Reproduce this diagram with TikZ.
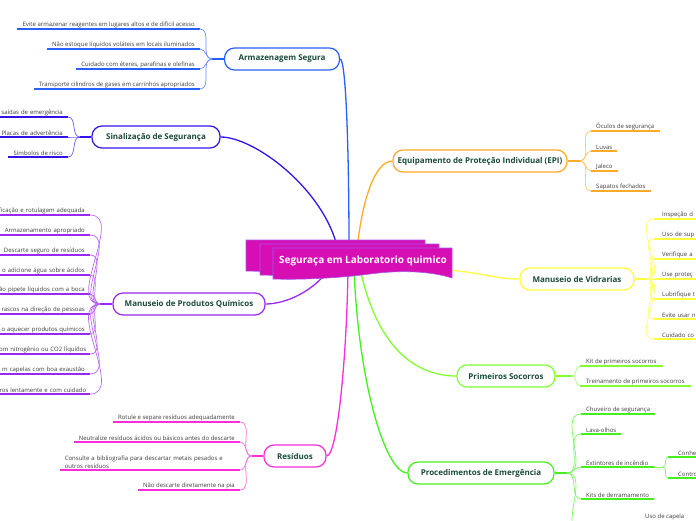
\documentclass[tikz,border=0pt]{standalone}
\usepackage{fontspec}
\setmainfont{Open Sans}
\definecolor{armc}{RGB}{40,95,255}
\definecolor{sinc}{RGB}{50,20,235}
\definecolor{prodc}{RGB}{155,40,240}
\definecolor{resc}{RGB}{255,45,215}
\definecolor{epic}{RGB}{255,170,40}
\definecolor{vidc}{RGB}{255,255,60}
\definecolor{socc}{RGB}{130,255,50}
\definecolor{emgc}{RGB}{70,240,30}
\definecolor{hubc}{RGB}{214,14,180}
\definecolor{hubedge}{RGB}{165,85,235}
\definecolor{titlec}{RGB}{25,75,60}
\definecolor{leafc}{RGB}{60,60,60}

\begin{document}
\begin{tikzpicture}[x=1pt,y=1pt,
		branch/.style={draw=#1, line width=1.2pt, rounded corners=10pt, fill=white, text=titlec, font=\bfseries\fontsize{8}{9.6}\selectfont, minimum height=22pt, inner xsep=3pt},
		leafl/.style={anchor=south east, inner xsep=5pt, inner ysep=0.8pt, text=leafc, font=\fontsize{6}{8.3}\selectfont},
		leafr/.style={leafl, anchor=south west},
		under/.style={draw=#1, line width=2pt},
		twig/.style={draw=#1!70, line width=0.7pt},
		trunk/.style={draw=#1, line width=1.3pt},
		banner/.style={fill=hubc, draw=hubedge, line width=0.6pt}]
		\useasboundingbox (0,0) rectangle (696,-520);
		\clip (0,0) rectangle (696,-520);
		\node[branch=armc, minimum width=115pt] (arm) at (282,-59) {Armazenagem Segura};
		\node[branch=sinc, minimum width=128pt] (sin) at (156,-137) {Sinalização de Segurança};
		\node[branch=prodc, minimum width=152pt] (prod) at (189,-304) {Manuseio de Produtos Químicos};
		\node[branch=resc, minimum width=62pt] (res) at (295,-456) {Resíduos};
		\node[branch=epic, minimum width=174pt] (epi) at (480,-161) {Equipamento de Proteção Individual (EPI)};
		\node[branch=vidc, minimum width=114pt] (vid) at (577,-279) {Manuseio de Vidrarias};
		\node[branch=socc, minimum width=98pt] (soc) at (506,-376) {Primeiros Socorros};
		\node[branch=emgc, minimum width=146pt] (emg) at (481,-473) {Procedimentos de Emergência};
		\coordinate (harm) at (349,-250);
		\coordinate (hsin) at (338,-250);
		\coordinate (hepi) at (357,-250);
		\coordinate (hprod) at (330,-268);
		\coordinate (hres) at (348,-268);
		\coordinate (hsoc) at (360,-268);
		\coordinate (hemg) at (354,-268);
		\coordinate (hvid) at (445,-270);
		\draw[trunk=armc] (harm) .. controls (349,-150) and (346,-59) .. (arm.east);
		\draw[trunk=sinc] (hsin) .. controls (325,-190) and (255,-137) .. (sin.east);
		\draw[trunk=epic] (hepi) .. controls (362,-200) and (375,-161) .. (epi.west);
		\draw[trunk=prodc] (hprod) .. controls (315,-290) and (287,-304) .. (prod.east);
		\draw[trunk=resc] (hres) .. controls (347,-350) and (338,-456) .. (res.east);
		\draw[trunk=vidc] (hvid) .. controls (480,-272) and (495,-279) .. (vid.west);
		\draw[trunk=socc] (hsoc) .. controls (375,-340) and (410,-376) .. (soc.west);
		\draw[trunk=emgc] (hemg) .. controls (358,-380) and (385,-473) .. (emg.west);
		\draw[banner, shift={(-27,8)}] (273,-248) -- (452,-248) -- (452,-278) .. controls (430,-271) and (400,-270) .. (370,-274) .. controls (340,-278) and (300,-280) .. (273,-279) -- cycle;
		\draw[banner, shift={(-13,4)}] (273,-248) -- (452,-248) -- (452,-278) .. controls (430,-271) and (400,-270) .. (370,-274) .. controls (340,-278) and (300,-280) .. (273,-279) -- cycle;
		\draw[banner] (273,-248) -- (452,-248) -- (452,-278) .. controls (430,-271) and (400,-270) .. (370,-274) .. controls (340,-278) and (300,-280) .. (273,-279) -- cycle;
		\node[text=white, font=\bfseries\fontsize{10}{12}\selectfont] (hub) at (363,-261) {Seguraça em Laboratorio quimico};
		\coordinate (armf) at (212,-59);
		\node[leafl] (arm1) at (200,-29) {Evite armazenar reagentes em lugares altos e de difícil acesso};
		\node[leafl] (arm2) at (200,-49) {Não estoque líquidos voláteis em locais iluminados};
		\node[leafl] (arm3) at (200,-69) {Cuidado com éteres, parafinas e olefinas};
		\node[leafl] (arm4) at (200,-89) {Transporte cilindros de gases em carrinhos apropriados};
		\draw[under=armc] (arm.west) -- (armf);
		\draw[under=armc] (arm1.south west) -- (arm1.south east);
		\draw[under=armc] (arm2.south west) -- (arm2.south east);
		\draw[under=armc] (arm3.south west) -- (arm3.south east);
		\draw[under=armc] (arm4.south west) -- (arm4.south east);
		\draw[twig=armc] (armf) to[out=180,in=0] (arm1.south east);
		\draw[twig=armc] (armf) to[out=180,in=0] (arm2.south east);
		\draw[twig=armc] (armf) to[out=180,in=0] (arm3.south east);
		\draw[twig=armc] (armf) to[out=180,in=0] (arm4.south east);
		\coordinate (sinf) at (80,-137);
		\node[leafl, text width=80pt, align=right] (sin1) at (68,-117) {saídas de emergência};
		\node[leafl, text width=80pt, align=right] (sin2) at (68,-137) {Placas de advertência};
		\node[leafl] (sin3) at (68,-157) {Símbolos de risco};
		\draw[under=sinc] (sin.west) -- (sinf);
		\draw[under=sinc] (sin1.south west) -- (sin1.south east);
		\draw[under=sinc] (sin2.south west) -- (sin2.south east);
		\draw[under=sinc] (sin3.south west) -- (sin3.south east);
		\draw[twig=sinc] (sinf) to[out=180,in=0] (sin1.south east);
		\draw[twig=sinc] (sinf) to[out=180,in=0] (sin2.south east);
		\draw[twig=sinc] (sinf) to[out=180,in=0] (sin3.south east);
		\coordinate (prodf) at (100,-304);
		\node[leafl, text width=100pt, align=right] (prod1) at (90,-215) {ficação e rotulagem adequada};
		\node[leafl, text width=100pt, align=right] (prod2) at (90,-235) {Armazenamento apropriado};
		\node[leafl, text width=100pt, align=right] (prod3) at (90,-255) {Descarte seguro de resíduos};
		\node[leafl, text width=100pt, align=right] (prod4) at (90,-275) {o adicione água sobre ácidos};
		\node[leafl, text width=100pt, align=right] (prod5) at (90,-294) {ão pipete líquidos com a boca};
		\node[leafl, text width=100pt, align=right] (prod6) at (90,-314) {rascos na direção de pessoas};
		\node[leafl, text width=100pt, align=right] (prod7) at (90,-334) {o aquecer produtos químicos};
		\node[leafl, text width=100pt, align=right, inner xsep=3.5pt] (prod8) at (90,-354) {om nitrogênio ou CO2 líquidos};
		\node[leafl, text width=100pt, align=right] (prod9) at (90,-374) {m capelas com boa exaustão};
		\node[leafl, text width=100pt, align=right, inner xsep=3.5pt] (prod10) at (90,-394) {ros lentamente e com cuidado};
		\draw[under=prodc] (prod.west) -- (prodf);
		\draw[under=prodc] (prod1.south west) -- (prod1.south east);
		\draw[under=prodc] (prod2.south west) -- (prod2.south east);
		\draw[under=prodc] (prod3.south west) -- (prod3.south east);
		\draw[under=prodc] (prod4.south west) -- (prod4.south east);
		\draw[under=prodc] (prod5.south west) -- (prod5.south east);
		\draw[under=prodc] (prod6.south west) -- (prod6.south east);
		\draw[under=prodc] (prod7.south west) -- (prod7.south east);
		\draw[under=prodc] (prod8.south west) -- (prod8.south east);
		\draw[under=prodc] (prod9.south west) -- (prod9.south east);
		\draw[under=prodc] (prod10.south west) -- (prod10.south east);
		\draw[twig=prodc] (prodf) to[out=180,in=0] (prod1.south east);
		\draw[twig=prodc] (prodf) to[out=180,in=0] (prod2.south east);
		\draw[twig=prodc] (prodf) to[out=180,in=0] (prod3.south east);
		\draw[twig=prodc] (prodf) to[out=180,in=0] (prod4.south east);
		\draw[twig=prodc] (prodf) to[out=180,in=0] (prod5.south east);
		\draw[twig=prodc] (prodf) to[out=180,in=0] (prod6.south east);
		\draw[twig=prodc] (prodf) to[out=180,in=0] (prod7.south east);
		\draw[twig=prodc] (prodf) to[out=180,in=0] (prod8.south east);
		\draw[twig=prodc] (prodf) to[out=180,in=0] (prod9.south east);
		\draw[twig=prodc] (prodf) to[out=180,in=0] (prod10.south east);
		\coordinate (resf) at (252,-456);
		\node[leafl] (res1) at (240,-422) {Rotule e separe resíduos adequadamente};
		\node[leafl] (res2) at (240,-442) {Neutralize resíduos ácidos ou básicos antes do descarte};
		\node[leafl, text width=170pt, align=left] (res3) at (240,-470) {Consulte a bibliografia para descartar metais pesados e\\outros resíduos};
		\node[leafl] (res4) at (240,-490) {Não descarte diretamente na pia};
		\draw[under=resc] (res.west) -- (resf);
		\draw[under=resc] (res1.south west) -- (res1.south east);
		\draw[under=resc] (res2.south west) -- (res2.south east);
		\draw[under=resc] (res3.south west) -- (res3.south east);
		\draw[under=resc] (res4.south west) -- (res4.south east);
		\draw[twig=resc] (resf) to[out=180,in=0] (res1.south east);
		\draw[twig=resc] (resf) to[out=180,in=0] (res2.south east);
		\draw[twig=resc] (resf) to[out=180,in=0] (res3.south east);
		\draw[twig=resc] (resf) to[out=180,in=0] (res4.south east);
		\coordinate (epif) at (580,-161);
		\node[leafr] (epi1) at (591,-131) {Óculos de segurança};
		\node[leafr] (epi2) at (591,-151) {Luvas};
		\node[leafr] (epi3) at (591,-171) {Jaleco};
		\node[leafr] (epi4) at (591,-191) {Sapatos fechados};
		\draw[under=epic] (epi.east) -- (epif);
		\draw[under=epic] (epi1.south west) -- (epi1.south east);
		\draw[under=epic] (epi2.south west) -- (epi2.south east);
		\draw[under=epic] (epi3.south west) -- (epi3.south east);
		\draw[under=epic] (epi4.south west) -- (epi4.south east);
		\draw[twig=epic] (epif) to[out=0,in=180] (epi1.south west);
		\draw[twig=epic] (epif) to[out=0,in=180] (epi2.south west);
		\draw[twig=epic] (epif) to[out=0,in=180] (epi3.south west);
		\draw[twig=epic] (epif) to[out=0,in=180] (epi4.south west);
		\coordinate (vidf) at (647,-279);
		\node[leafr, inner xsep=8pt, text width=40pt, align=left] (vid1) at (654,-219) {Inspeção d};
		\node[leafr, inner xsep=8pt, text width=40pt, align=left] (vid2) at (654,-239) {Uso de sup};
		\node[leafr, inner xsep=8pt, text width=40pt, align=left] (vid3) at (654,-259) {Verifique a};
		\node[leafr, inner xsep=8pt, text width=40pt, align=left] (vid4) at (654,-279) {Use proteç};
		\node[leafr, inner xsep=8pt, text width=40pt, align=left] (vid5) at (654,-299) {Lubrifique t};
		\node[leafr, inner xsep=8pt, text width=40pt, align=left] (vid6) at (654,-319) {Evite usar n};
		\node[leafr, inner xsep=8pt, text width=40pt, align=left] (vid7) at (654,-339) {Cuidado co};
		\draw[under=vidc] (vid.east) -- (vidf);
		\draw[under=vidc] (vid1.south west) -- (vid1.south east);
		\draw[under=vidc] (vid2.south west) -- (vid2.south east);
		\draw[under=vidc] (vid3.south west) -- (vid3.south east);
		\draw[under=vidc] (vid4.south west) -- (vid4.south east);
		\draw[under=vidc] (vid5.south west) -- (vid5.south east);
		\draw[under=vidc] (vid6.south west) -- (vid6.south east);
		\draw[under=vidc] (vid7.south west) -- (vid7.south east);
		\draw[twig=vidc] (vidf) to[out=0,in=180] (vid1.south west);
		\draw[twig=vidc] (vidf) to[out=0,in=180] (vid2.south west);
		\draw[twig=vidc] (vidf) to[out=0,in=180] (vid3.south west);
		\draw[twig=vidc] (vidf) to[out=0,in=180] (vid4.south west);
		\draw[twig=vidc] (vidf) to[out=0,in=180] (vid5.south west);
		\draw[twig=vidc] (vidf) to[out=0,in=180] (vid6.south west);
		\draw[twig=vidc] (vidf) to[out=0,in=180] (vid7.south west);
		\coordinate (socf) at (572,-376);
		\node[leafr, inner xsep=6pt] (soc1) at (580,-366) {Kit de primeiros socorros};
		\node[leafr, inner xsep=6pt] (soc2) at (580,-386) {Treinamento de primeiros socorros};
		\draw[under=socc] (soc.east) -- (socf);
		\draw[under=socc] (soc1.south west) -- (soc1.south east);
		\draw[under=socc] (soc2.south west) -- (soc2.south east);
		\draw[twig=socc] (socf) to[out=0,in=180] (soc1.south west);
		\draw[twig=socc] (socf) to[out=0,in=180] (soc2.south west);
		\coordinate (emgf) at (567,-473);
		\node[leafr] (emg1) at (581,-414) {Chuveiro de segurança};
		\node[leafr] (emg2) at (581,-434) {Lava-olhos};
		\node[leafr] (emg3) at (581,-467) {Extintores de incêndio};
		\node[leafr] (emg4) at (581,-499) {Kits de derramamento};
		\coordinate (emg5) at (581,-532);
		\node[leafr] (capela) at (640,-521) {Uso de capela};
		\draw[under=emgc] (emg.east) -- (emgf);
		\draw[under=emgc] (emg1.south west) -- (emg1.south east);
		\draw[under=emgc] (emg2.south west) -- (emg2.south east);
		\draw[under=emgc] (emg3.south west) -- (emg3.south east);
		\draw[under=emgc] (emg4.south west) -- (emg4.south east);
		\draw[twig=emgc] (emgf) to[out=0,in=180] (emg1.south west);
		\draw[twig=emgc] (emgf) to[out=0,in=180] (emg2.south west);
		\draw[twig=emgc] (emgf) to[out=0,in=180] (emg3.south west);
		\draw[twig=emgc] (emgf) to[out=0,in=180] (emg4.south west);
		\draw[twig=emgc] (emgf) to[out=0,in=180] (emg5);
		\coordinate (extf) at (663,-467);
		\node[leafr, inner xsep=10pt, text width=30pt, align=left] (ext1) at (668,-457) {Conhe};
		\node[leafr, inner xsep=10pt, text width=30pt, align=left] (ext2) at (668,-478) {Contro};
		\draw[twig=emgc] (emg3.south east) -- (extf);
		\draw[under=emgc] (ext1.south west) -- (ext1.south east);
		\draw[under=emgc] (ext2.south west) -- (ext2.south east);
		\draw[twig=emgc] (extf) to[out=0,in=180] (ext1.south west);
		\draw[twig=emgc] (extf) to[out=0,in=180] (ext2.south west);
\end{tikzpicture}
\end{document}
